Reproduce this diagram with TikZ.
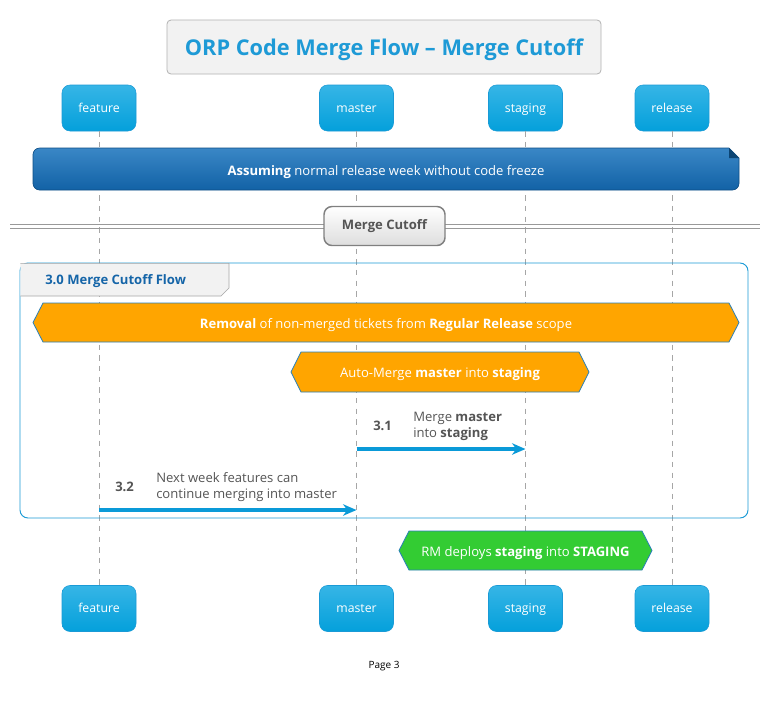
\documentclass[tikz,border=0pt]{standalone}
\usepackage{fontspec}
\setmainfont{Open Sans}
\usetikzlibrary{arrows.meta}
\definecolor{ptop}{HTML}{36B5E6}
\definecolor{pbot}{HTML}{04A0DB}
\definecolor{pborder}{HTML}{1A9AD6}
\definecolor{titleblue}{HTML}{1E9AD6}
\definecolor{darkblue}{HTML}{1565A8}
\definecolor{notetop}{HTML}{3A87C6}
\definecolor{notebot}{HTML}{1262A6}
\definecolor{orangec}{HTML}{FFA500}
\definecolor{greenc}{HTML}{33CC33}
\definecolor{hexborder}{HTML}{2A80B9}
\definecolor{txtgray}{HTML}{555555}
\definecolor{msgblue}{HTML}{0A9AD8}
\begin{document}
\begin{tikzpicture}[x=0.75pt,y=-0.75pt,
  base/.style={font=\fontsize{9.8}{12}\selectfont},
  part/.style={font=\fontsize{9.2}{11}\selectfont, rounded corners=6pt, draw=pborder, line width=0.4pt,
    top color=ptop, bottom color=pbot, text=white,
    minimum width=55.5pt, minimum height=34.5pt, inner sep=0pt, text depth=0pt, text height=6pt},
  life/.style={draw=gray!70, line width=0.5pt, dash pattern=on 4pt off 4pt},
  hex/.style={draw=hexborder, line width=0.6pt},
  whitetxt/.style={base, text=white, inner sep=0pt, yshift=-1.2pt},
  msg/.style={draw=msgblue, line width=2.6pt, -{Stealth[length=10pt,width=8.5pt,inset=3pt]}},
  lbl/.style={base, text=txtgray, inner sep=0pt, align=left},
  boldlbl/.style={font=\fontsize{9.8}{12}\selectfont\bfseries, text=txtgray, inner sep=0pt},
]
\useasboundingbox (0,0) rectangle (770,708);
\fill[white] (0,0) rectangle (770,708);

% title
\draw[draw=black!30, fill=black!5, rounded corners=3pt, line width=0.6pt] (167,20) rectangle (601,74);
\node[font=\fontsize{16.3}{19}\selectfont\bfseries, text=titleblue, inner sep=0pt] (title) at (384,49.5) {ORP Code Merge Flow – Merge Cutoff};

% participants
\node[part] (ft) at (99,108) {feature};
\node[part] (mt) at (356.5,108) {master};
\node[part] (stt) at (525.5,108) {staging};
\node[part] (rt) at (672,108) {release};
\node[part] (fb) at (99,608.5) {feature};
\node[part] (mb) at (356.5,608.5) {master};
\node[part] (sb) at (525.5,608.5) {staging};
\node[part] (rb) at (672,608.5) {release};

\draw[life] (ft.south) -- (fb.north);
\draw[life] (mt.south) -- (mb.north);
\draw[life] (stt.south) -- (sb.north);
\draw[life] (rt.south) -- (rb.north);

% note
\shade[top color=notetop, bottom color=notebot, draw=notebot!80!black, line width=0.5pt]
  [rounded corners=5pt] (33,170) -- (33,148) [sharp corners]-- (729,148) -- (739,158) [rounded corners=5pt] -- (739,190) -- (33,190) -- cycle;
\fill[notebot!70!black] (729,148) -- (739,158) -- (729,158) -- cycle;
\node[whitetxt] (note) at (386,170) {\textbf{Assuming} normal release week without code freeze};

% divider
\draw[draw=gray!80, line width=0.7pt] (10,224) -- (760,224);
\draw[draw=gray!80, line width=0.7pt] (10,228) -- (760,228);
\node[boldlbl, draw=gray, line width=1.1pt,
  rounded corners=6pt, top color=white, bottom color=black!13,
  minimum width=90.75pt, minimum height=29.25pt] (cut) at (384.5,226) {Merge Cutoff};

% group
\draw[draw=pborder, line width=0.7pt, rounded corners=6pt] (20,263) rectangle (748,518);
\draw[draw=black!35, fill=black!5, line width=0.5pt] (20.4,263.4) -- (229,263.4) -- (229,288) -- (221,296) -- (20.4,296);
\node[boldlbl, text=darkblue, anchor=west] (grp) at (45,281) {3.0 Merge Cutoff Flow};

% hexagons
\filldraw[hex, fill=orangec] (33,322.5) -- (43,303) -- (729,303) -- (739,322.5) -- (729,342) -- (43,342) -- cycle;
\node[whitetxt] (removal) at (386,323) {\textbf{Removal} of non-merged tickets from \textbf{Regular Release} scope};

\filldraw[hex, fill=orangec] (291,372) -- (301,352) -- (579,352) -- (589,372) -- (579,392) -- (301,392) -- cycle;
\node[whitetxt] (automerge) at (440,372) {Auto-Merge \textbf{master} into \textbf{staging}};

\filldraw[hex, fill=greenc] (399,550.5) -- (409,531) -- (642,531) -- (652,550.5) -- (642,570) -- (409,570) -- cycle;
\node[whitetxt] (deploy) at (525.5,551) {RM deploys \textbf{staging} into \textbf{STAGING}};

% messages
\coordinate (y31) at (0,449);
\coordinate (y32) at (0,510);
\draw[msg] (mt |- y31) -- (stt |- y31);
\draw[msg] (ft |- y32) -- (mt |- y32);
\node[boldlbl, anchor=west] (n31) at (373,426) {3.1};
\node[lbl, anchor=west] (t31) at (413,426) {Merge \textbf{master}\\into \textbf{staging}};
\node[boldlbl, anchor=west] (n32) at (115,487) {3.2};
\node[lbl, anchor=west] (t32) at (156,487) {Next week features can\\continue merging into master};

% footer
\node[font=\fontsize{7.5}{9}\selectfont, inner sep=0pt] (page) at (384,666) {Page 3};
\end{tikzpicture}
\end{document}
